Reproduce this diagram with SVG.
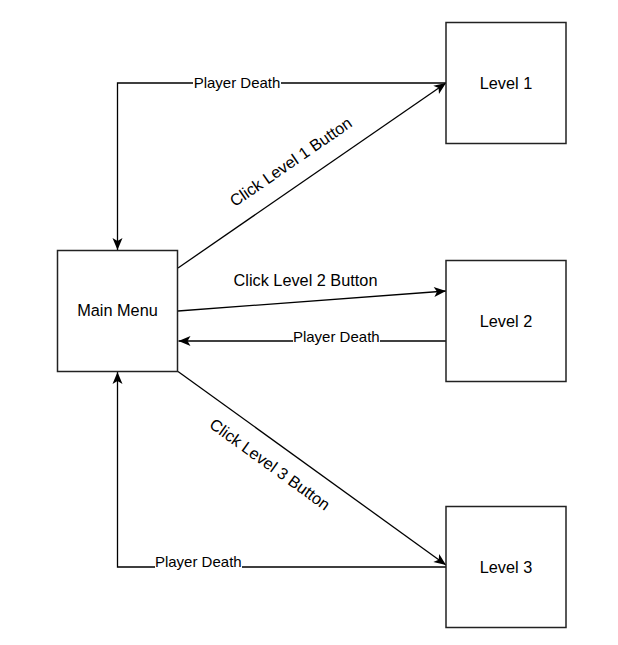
<svg xmlns="http://www.w3.org/2000/svg" width="618" height="645" viewBox="0 0 618 645">
<style>
.node rect{fill:#fff;stroke:#222;stroke-width:1.5}
.node text{font-family:"Liberation Sans",Arial,sans-serif;font-size:16.3px;fill:#000;text-anchor:middle}
.edge{fill:none;stroke:#000;stroke-width:1.3;marker-end:url(#arr)}
.lbl{font-family:"Liberation Sans",Arial,sans-serif;fill:#000;text-anchor:middle}
.pd{font-size:15px}
.ck{font-size:16.3px}
.bg{fill:#fff}
</style>
<defs>
<marker id="arr" viewBox="-13 -6 14 12" markerWidth="14" markerHeight="12" refX="0" refY="0" orient="auto" markerUnits="userSpaceOnUse">
<path d="M-12,-5 L0,0 L-12,5 L-9,0 Z" fill="#000"/>
</marker>
</defs>
<rect width="618" height="645" fill="#fff"/>
<g id="connectors">
<path class="edge" d="M446,83 L117.5,83 L117.5,250"/>
<path class="edge" d="M178,268 L446,83"/>
<path class="edge" d="M178,311 L446,291"/>
<path class="edge" d="M446,341 L178.5,341"/>
<path class="edge" d="M178,371.5 L446,565"/>
<path class="edge" d="M446,567 L117.5,567 L117.5,372"/>
<rect class="bg" x="193" y="75" width="88" height="16"/>
<text class="lbl pd" x="237" y="88.3">Player Death</text>
<text class="lbl ck" transform="translate(290.8,161.7) rotate(-34.6)" y="5.8">Click Level 1 Button</text>
<text class="lbl ck" x="305.5" y="285.7">Click Level 2 Button</text>
<rect class="bg" x="293" y="330" width="87" height="13"/>
<text class="lbl pd" x="336.3" y="341.5">Player Death</text>
<text class="lbl ck" transform="translate(270,464.2) rotate(35.8)" y="5.8">Click Level 3 Button</text>
<rect class="bg" x="155" y="555" width="87" height="13"/>
<text class="lbl pd" x="198.3" y="566.7">Player Death</text>
</g>
<g id="main-menu" class="node">
<rect x="57.5" y="250.5" width="120" height="121"/>
<text x="117.5" y="316">Main Menu</text>
</g>
<g id="level-1" class="node">
<rect x="446" y="22.5" width="120" height="121"/>
<text x="506" y="89">Level 1</text>
</g>
<g id="level-2" class="node">
<rect x="446" y="260.5" width="120" height="121"/>
<text x="506" y="327">Level 2</text>
</g>
<g id="level-3" class="node">
<rect x="446" y="506.5" width="120" height="121"/>
<text x="506" y="573">Level 3</text>
</g>
</svg>
